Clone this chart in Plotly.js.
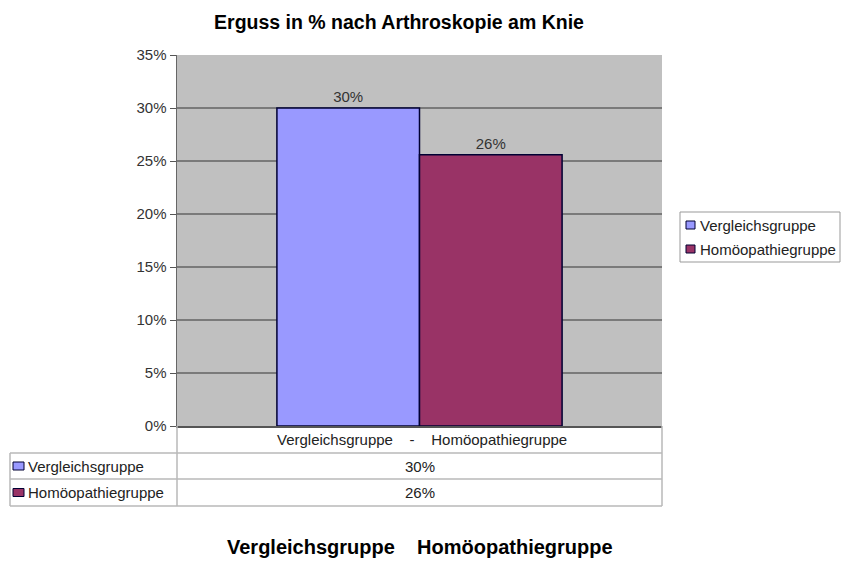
<!DOCTYPE html>
<html>
<head>
<meta charset="utf-8">
<script src="https://cdn.plot.ly/plotly-3.0.1.min.js"></script>
<style>
  html, body { margin: 0; padding: 0; background: #fff; }
  #chart { width: 841px; height: 561px; }
</style>
</head>
<body>
<div id="chart"></div>
<script>
// data
const category = "Vergleichsgruppe    -    Homöopathiegruppe";
const seriesNames = ["Vergleichsgruppe", "Homöopathiegruppe"];
const seriesValues = [0.30, 0.256];
const seriesColors = ["#9999FF", "#993366"];
const tableLabels = ["30%", "26%"];
const yTicks = [0, 0.05, 0.10, 0.15, 0.20, 0.25, 0.30, 0.35];

// plot area in pixels
const plotL = 177, plotR = 662, plotT = 55, plotB = 426;
const W = 841, H = 561;
const px = x => (x - plotL) / (plotR - plotL);
const py = y => (plotB - y) / (plotB - plotT);

const FAM = "Liberation Sans, Arial, sans-serif";
const font = { family: FAM, size: 15, color: "#222" };

const traces = seriesNames.map((name, i) => ({
    type: "bar",
    name: name,
    x: [category],
    y: [seriesValues[i]],
    marker: { color: seriesColors[i], line: { color: "#000033", width: 1.5 } },
    text: [tableLabels[i]],
    textposition: "outside",
    texttemplate: "%{text}",
    textfont: { family: FAM, size: 15, color: "#333" },
    cliponaxis: false,
    hoverinfo: "skip"
}));

const shapes = [];
const annotations = [];
const lineCol = "#b8b8b8";
const line = (x0, y0, x1, y1, c) => shapes.push({
    type: "line", xref: "paper", yref: "paper",
    x0: px(x0), y0: py(y0), x1: px(x1), y1: py(y1),
    line: { color: c || lineCol, width: 1.5 }
});
const swatch = (x0, x1, yc, col) => shapes.push({
    type: "rect", xref: "paper", yref: "paper",
    x0: px(x0), x1: px(x1), y0: py(yc - 4), y1: py(yc + 4),
    fillcolor: col, line: { color: "#000033", width: 1 }
});
const label = (x, y, text, anchor, f) => annotations.push({
    xref: "paper", yref: "paper", x: px(x), y: py(y),
    text: text, showarrow: false, xanchor: anchor, yanchor: "middle", font: f || font
});

// data table under the plot
const rowTops = [426, 453, 479, 506];
const tableLeft = 10;
line(plotL, rowTops[0], plotL, rowTops[3]);
line(plotR, rowTops[0], plotR, rowTops[3]);
line(tableLeft, rowTops[1], tableLeft, rowTops[3]);
for (let r = 1; r < rowTops.length; r++) line(tableLeft, rowTops[r], plotR, rowTops[r]);
label((plotL + plotR) / 2 + 2, 439, category, "center");
seriesNames.forEach((name, i) => {
    const yc = (rowTops[i + 1] + rowTops[i + 2]) / 2;
    swatch(13, 24, yc, seriesColors[i]);
    label(26, yc, name, "left");
    label((plotL + plotR) / 2, yc, tableLabels[i], "center");
});

// legend box on the right
shapes.push({
    type: "rect", xref: "paper", yref: "paper",
    x0: px(680), x1: px(840), y0: py(212), y1: py(262),
    fillcolor: "#fff", line: { color: "#999", width: 1 }
});
seriesNames.forEach((name, i) => {
    const yc = 225 + i * 24;
    swatch(686, 695, yc, seriesColors[i]);
    label(698, yc, name, "left");
});

// bold category names below
label(420, 547, "<b>" + seriesNames.join("    ") + "</b>", "center",
      { family: FAM, size: 20, color: "#000" });

const layout = {
    width: W, height: H,
    margin: { l: plotL, r: W - plotR, t: plotT, b: H - plotB, pad: 0 },
    paper_bgcolor: "#ffffff",
    plot_bgcolor: "#C0C0C0",
    title: {
        text: "<b>Erguss in % nach Arthroskopie am Knie</b>",
        x: 399 / W, xanchor: "center", y: 1 - 22 / H, yanchor: "middle",
        font: { family: FAM, size: 19.5, color: "#000" }
    },
    barmode: "group",
    bargap: 0.412,
    bargroupgap: 0,
    showlegend: false,
    xaxis: {
        type: "category",
        showticklabels: false, ticks: "",
        showline: true, linecolor: "#555", linewidth: 2,
        showgrid: false, zeroline: false
    },
    yaxis: {
        range: [0, 0.35],
        tickvals: yTicks,
        tickformat: ".0%",
        ticks: "outside", ticklen: 6, tickcolor: "#555",
        showline: true, linecolor: "#666", linewidth: 1.5,
        showgrid: true, gridcolor: "#7a7a7a", gridwidth: 1.2,
        zeroline: false,
        tickfont: { family: FAM, size: 15, color: "#333" }
    },
    shapes: shapes,
    annotations: annotations
};

Plotly.newPlot("chart", traces, layout, { displayModeBar: false, staticPlot: true });
</script>
</body>
</html>
